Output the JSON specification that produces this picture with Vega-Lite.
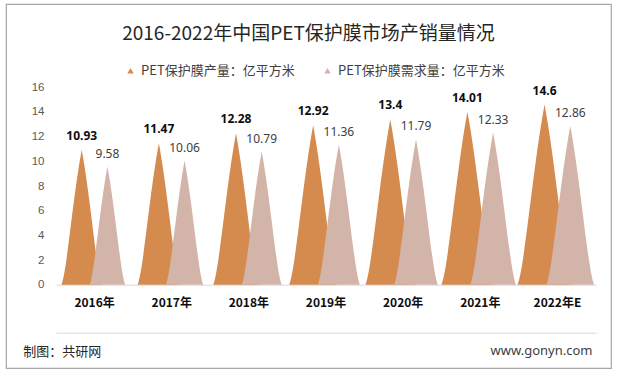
{
  "$schema": "https://vega.github.io/schema/vega-lite/v6.json",
  "width": 605,
  "height": 364,
  "autosize": {"type": "none"},
  "padding": {"left": 6, "top": 4, "right": 6, "bottom": 6},
  "background": "white",
  "config": {
    "font": "Noto Sans CJK SC",
    "view": {"stroke": "#a6a6a6", "strokeWidth": 1.2},
    "axisY": {
      "domain": false,
      "ticks": false,
      "grid": false,
      "labelPadding": 4,
      "labelFontSize": 11.5,
      "labelColor": "#595959",
      "labelFont": "Liberation Sans",
      "titleAngle": 0,
      "titleX": 544,
      "titleY": 346,
      "titleAlign": "right",
      "titleBaseline": "middle",
      "titleFontSize": 13,
      "titleFontWeight": "normal",
      "titleColor": "#404040",
      "titleFont": "Noto Sans"
    }
  },
  "title": {
    "text": "2016-2022年中国PET保护膜市场产销量情况",
    "font": "Noto Sans CJK SC",
    "fontSize": 19,
    "fontWeight": "normal",
    "color": "#262626",
    "anchor": "middle",
    "frame": "group",
    "offset": -40
  },
  "data": {
    "values": [
      {"year": "2016年", "series": "PET保护膜产量：亿平方米", "value": 10.93},
      {"year": "2017年", "series": "PET保护膜产量：亿平方米", "value": 11.47},
      {"year": "2018年", "series": "PET保护膜产量：亿平方米", "value": 12.28},
      {"year": "2019年", "series": "PET保护膜产量：亿平方米", "value": 12.92},
      {"year": "2020年", "series": "PET保护膜产量：亿平方米", "value": 13.4},
      {"year": "2021年", "series": "PET保护膜产量：亿平方米", "value": 14.01},
      {"year": "2022年E", "series": "PET保护膜产量：亿平方米", "value": 14.6},
      {"year": "2016年", "series": "PET保护膜需求量：亿平方米", "value": 9.58},
      {"year": "2017年", "series": "PET保护膜需求量：亿平方米", "value": 10.06},
      {"year": "2018年", "series": "PET保护膜需求量：亿平方米", "value": 10.79},
      {"year": "2019年", "series": "PET保护膜需求量：亿平方米", "value": 11.36},
      {"year": "2020年", "series": "PET保护膜需求量：亿平方米", "value": 11.79},
      {"year": "2021年", "series": "PET保护膜需求量：亿平方米", "value": 12.33},
      {"year": "2022年E", "series": "PET保护膜需求量：亿平方米", "value": 12.86}
    ]
  },
  "layer": [
    {
      "mark": {
        "type": "point",
        "shape": "M -0.3 2 C -0.22 1.8 -0.13 0.7 0 0 C 0.13 0.7 0.22 1.8 0.3 2 Z",
        "filled": true,
        "opacity": 1,
        "strokeWidth": 0
      },
      "encoding": {
        "x": {
          "field": "year",
          "type": "nominal",
          "sort": null,
          "scale": {"type": "band", "range": [50, 590], "paddingInner": 0, "paddingOuter": 0},
          "axis": {
            "orient": "bottom",
            "offset": -83.3,
            "title": null,
            "domain": true,
            "domainColor": "#d9d9d9",
            "domainWidth": 1,
            "ticks": false,
            "grid": false,
            "labelAngle": 0,
            "labelPadding": 13,
            "labelFontSize": 12,
            "labelFontWeight": "bold",
            "labelColor": "#0d0d0d",
            "labelFont": "Noto Sans CJK SC"
          }
        },
        "xOffset": {
          "field": "series",
          "type": "nominal",
          "sort": null,
          "scale": {"type": "point", "padding": 1.177, "domain": ["PET保护膜产量：亿平方米", "PET保护膜需求量：亿平方米"]}
        },
        "y": {
          "field": "value",
          "type": "quantitative",
          "scale": {"domain": [-6.752, 22.752], "nice": false, "zero": false},
          "axis": {"orient": "left", "offset": -42, "title": "www.gonyn.com", "values": [0, 2, 4, 6, 8, 10, 12, 14, 16]}
        },
        "size": {
          "field": "value",
          "type": "quantitative",
          "scale": {"type": "pow", "exponent": 2, "domain": [0, 16], "range": [0, 38967], "zero": true, "nice": false},
          "legend": null
        },
        "color": {
          "field": "series",
          "type": "nominal",
          "sort": null,
          "scale": {
            "domain": ["PET保护膜产量：亿平方米", "PET保护膜需求量：亿平方米"],
            "range": ["#d58b4e", "#d3b4a9"]
          },
          "legend": {
            "orient": "none",
            "legendX": 118,
            "legendY": 60,
            "direction": "horizontal",
            "title": null,
            "symbolType": "triangle-up",
            "symbolSize": 40,
            "symbolStrokeWidth": 0,
            "labelFontSize": 13,
            "labelColor": "#404040",
            "labelFont": "Noto Sans CJK SC",
            "labelOffset": 4,
            "labelLimit": 400,
            "columnPadding": 26,
            "padding": 0
          }
        }
      }
    },
    {
      "transform": [{"filter": "datum.series === 'PET保护膜产量：亿平方米'"}],
      "mark": {"type": "text", "fontSize": 12, "fontWeight": "bold", "font": "Noto Sans", "color": "#0d0d0d", "dy": -10, "baseline": "alphabetic"},
      "encoding": {
        "x": {"field": "year", "type": "nominal", "sort": null, "axis": null},
        "xOffset": {"field": "series", "type": "nominal", "sort": null},
        "y": {"field": "value", "type": "quantitative", "axis": {"orient": "left", "offset": -42, "title": "www.gonyn.com", "values": [0, 2, 4, 6, 8, 10, 12, 14, 16]}},
        "text": {"field": "value", "type": "nominal"}
      }
    },
    {
      "transform": [{"filter": "datum.series === 'PET保护膜需求量：亿平方米'"}],
      "mark": {"type": "text", "fontSize": 12, "fontWeight": "normal", "font": "Noto Sans", "color": "#404040", "dy": -9, "baseline": "alphabetic"},
      "encoding": {
        "x": {
          "field": "year",
          "type": "nominal",
          "sort": null,
          "axis": {
            "orient": "bottom",
            "offset": -35.3,
            "labels": false,
            "ticks": false,
            "grid": false,
            "domain": true,
            "domainColor": "#d9d9d9",
            "domainWidth": 1,
            "title": "制图：共研网",
            "titleX": 16.7,
            "titleY": 18.3,
            "titleAlign": "left",
            "titleBaseline": "middle",
            "titleFontSize": 13,
            "titleFontWeight": "normal",
            "titleColor": "#262626",
            "titleFont": "Noto Sans CJK SC"
          }
        },
        "xOffset": {"field": "series", "type": "nominal", "sort": null},
        "y": {"field": "value", "type": "quantitative", "axis": {"orient": "left", "offset": -42, "title": "www.gonyn.com", "values": [0, 2, 4, 6, 8, 10, 12, 14, 16]}},
        "text": {"field": "value", "type": "nominal"}
      }
    }
  ],
  "resolve": {"axis": {"x": "independent"}}
}
